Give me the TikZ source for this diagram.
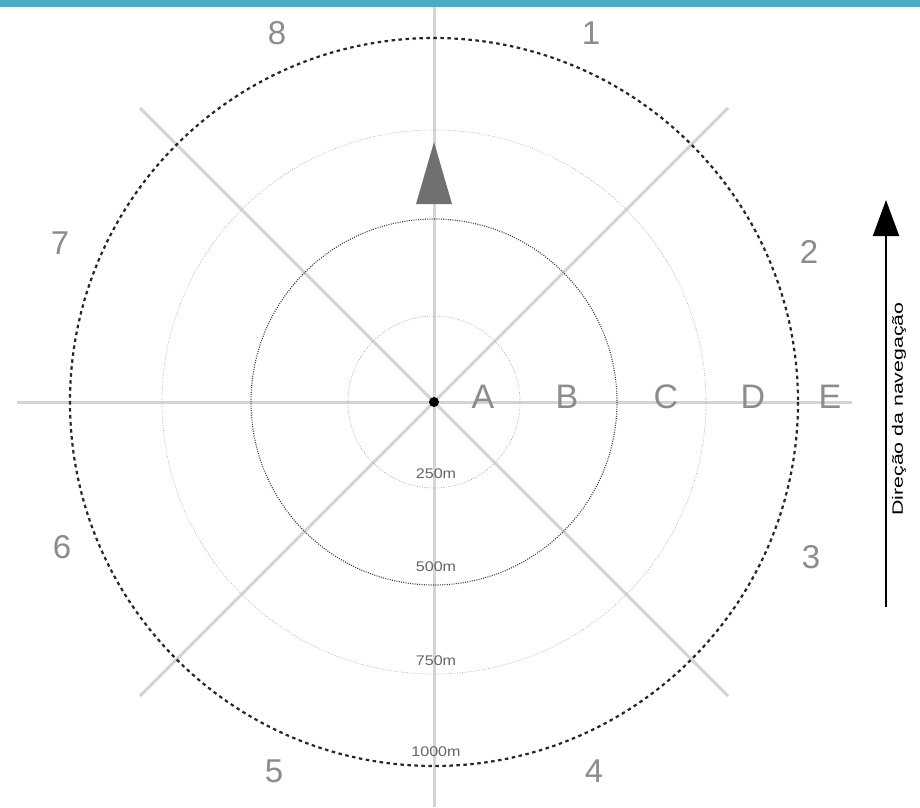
\documentclass[tikz,border=0pt]{standalone}
\usepackage{fontspec}
\setmainfont{Liberation Sans}
\usetikzlibrary{arrows.meta}
\definecolor{barblue}{HTML}{4BACC6}
\definecolor{axisgray}{HTML}{D4D4D4}
\definecolor{labgray}{HTML}{8C8C8C}
\definecolor{triggray}{HTML}{707070}
\tikzset{
  axis/.style={draw=axisgray, line width=3pt},
  ringA/.style={draw=gray!80, line width=0.6pt, dash pattern=on 0.8pt off 1.6pt},
  ringB/.style={draw=black!75, line width=1.1pt, dash pattern=on 1pt off 1.3pt},
  ringC/.style={draw=gray!70, line width=0.6pt, dash pattern=on 0.8pt off 1.6pt},
  ringD/.style={draw=black!85, line width=2.2pt, dash pattern=on 3.5pt off 3.5pt},
  zonelab/.style={text=labgray, font=\fontsize{34}{34}\selectfont, inner sep=0pt},
  sectlab/.style={text=labgray, font=\fontsize{33}{33}\selectfont, inner sep=0pt},
  rangelab/.style={text=black!60, font=\fontsize{14}{14}\selectfont, inner sep=0pt},
}
\begin{document}
\begin{tikzpicture}[x=1pt,y=-1pt]
\useasboundingbox (0,0) rectangle (920,807);
\fill[white] (0,0) rectangle (920,807);
\fill[barblue] (0,0) rectangle (920,7);
% axis end points
\coordinate (c) at (434,402);
\coordinate (vt) at (434,7);
\coordinate (vb) at (434,807);
\coordinate (hl) at (17,402);
\coordinate (hr) at (852,402);
\coordinate (ul) at (140,108);
\coordinate (lr) at (728,696);
\coordinate (ll) at (140,696);
\coordinate (ur) at (728,108);
\draw[axis] (vt) -- (vb);
\draw[axis] (hl) -- (hr);
\draw[axis] (ul) -- (lr);
\draw[axis] (ll) -- (ur);
% rings
\draw[ringA] (c) circle[radius=86];
\draw[ringB] (c) circle[radius=183];
\draw[ringC] (c) circle[radius=272];
\draw[ringD] (c) circle[radius=364];
% centre
\fill[black] (c) circle[radius=5];
% triangle
\fill[triggray] (434,142) -- (452,204) -- (416,204) -- cycle;
% range labels
\node[rangelab] (r250) at (436,474) {\scalebox{1.15}[1]{250m}};
\node[rangelab] (r500) at (436,567) {\scalebox{1.15}[1]{500m}};
\node[rangelab] (r750) at (436,661) {\scalebox{1.15}[1]{750m}};
\node[rangelab] (r1000) at (436,752) {\scalebox{1.15}[1]{1000m}};
% zone labels
\node[zonelab] (A) at (483,397) {A};
\node[zonelab] (B) at (567,397) {B};
\node[zonelab] (C) at (666,397) {C};
\node[zonelab] (D) at (753,397) {D};
\node[zonelab] (E) at (830,397) {E};
% sector labels
\node[sectlab] (s8) at (277,33) {8};
\node[sectlab] (s1) at (591,33) {1};
\node[sectlab] (s2) at (809,252) {2};
\node[sectlab] (s3) at (811,557) {3};
\node[sectlab] (s4) at (594,771) {4};
\node[sectlab] (s5) at (274,771) {5};
\node[sectlab] (s6) at (62,547) {6};
\node[sectlab] (s7) at (60,243) {7};
% navigation direction
\coordinate (nb) at (886,607);
\coordinate (nt) at (886,200);
\draw[black, line width=1.8pt, -{Triangle[length=36pt,width=26pt]}] (nb) -- (nt);
\node[rotate=90, inner sep=0pt, font=\fontsize{15}{15}\selectfont] (nav) at (899,409) {\scalebox{1.42}[1]{Direção da navegação}};
\end{tikzpicture}
\end{document}
